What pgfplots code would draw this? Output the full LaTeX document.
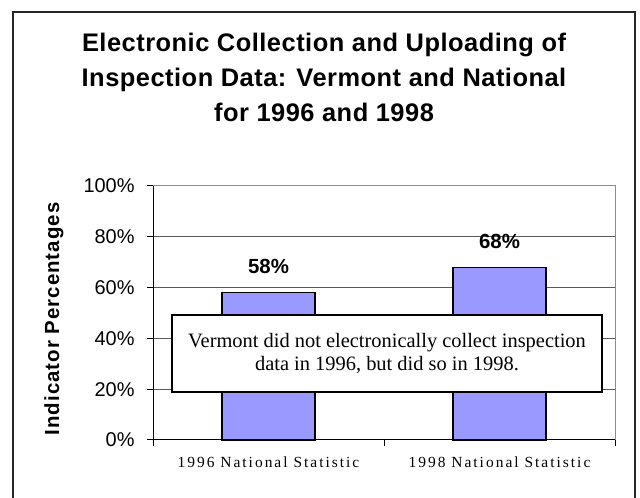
\documentclass[border=0pt]{standalone}
\usepackage{fontspec}
\setmainfont{Liberation Sans}
\newfontfamily\tnr{Liberation Serif}
\newfontfamily\tnrsp[LetterSpace=13]{Liberation Serif}
\newfontfamily\arialsp[LetterSpace=5]{Liberation Sans}
\newfontfamily\arialtitle[LetterSpace=2]{Liberation Sans}
\usepackage{pgfplots}
\pgfplotsset{compat=1.18}
\definecolor{barblue}{HTML}{9999FF}

\begin{document}
\begin{tikzpicture}[x=1bp,y=1bp]
\useasboundingbox (0,0) rectangle (640,498);
\fill[white] (0,0) rectangle (640,498);
\draw[line width=1.5bp, black!85] (13,0) -- (13,486) -- (635,486) -- (635,0);
\node[anchor=base, font=\arialtitle\bfseries\fontsize{25.5}{30}\selectfont] at (324,446) {Electronic Collection and Uploading of};
\node[anchor=base, font=\arialtitle\bfseries\fontsize{25.5}{30}\selectfont] at (324,411) {Inspection Data: Vermont and National};
\node[anchor=base, font=\arialtitle\bfseries\fontsize{25.5}{30}\selectfont] at (324,376) {for 1996 and 1998};
\node[rotate=90, font=\arialsp\bfseries\fontsize{20.5}{24}\selectfont] at (54,179) {Indicator Percentages};
\begin{axis}[
  at={(153bp,58bp)}, anchor=south west,
  scale only axis, width=462bp, height=254bp,
  xmin=-0.5, xmax=1.5, ymin=0, ymax=100,
  axis lines=left, axis line style={-, black, line width=1bp},
  ytick={0,20,...,100},
  yticklabel={\pgfmathprintnumber{\tick}\%},
  /pgf/number format/assume math mode=true,
  ymajorgrids, grid style={black!65, line width=1bp},
  tick align=outside, major tick length=6bp, minor tick length=6bp,
  tick style={black, line width=1bp},
  xtick={0,1},
  xticklabels={1996 National Statistic, 1998 National Statistic},
  major x tick style={draw=none},
  minor xtick={-0.5,0.5,1.5},
  yticklabel style={font=\fontsize{20}{24}\selectfont, xshift=-9bp},
  xticklabel style={font=\tnrsp\fontsize{15.5}{18}\selectfont, yshift=-7bp},
  clip=false,
]
\addplot[ybar, bar width=93bp, fill=barblue, draw=black, line width=1.5bp,
  nodes near coords={\pgfmathprintnumber{\pgfplotspointmeta}\%},
  every node near coord/.append style={font=\bfseries\fontsize{20.5}{24}\selectfont, yshift=15bp, black}]
  coordinates {(0,58) (1,68)};
\draw[black!45, line width=1bp] (rel axis cs:0,1) -- (rel axis cs:1,1) -- (rel axis cs:1,0);
\end{axis}
\node[draw=black, line width=1.5bp, fill=white, minimum width=430bp, minimum height=77bp,
  align=center, font=\tnr\fontsize{20.5}{24}\selectfont] at (387,144.5)
  {Vermont did not electronically collect inspection\\data in 1996, but did so in 1998.};
\end{tikzpicture}
\end{document}
